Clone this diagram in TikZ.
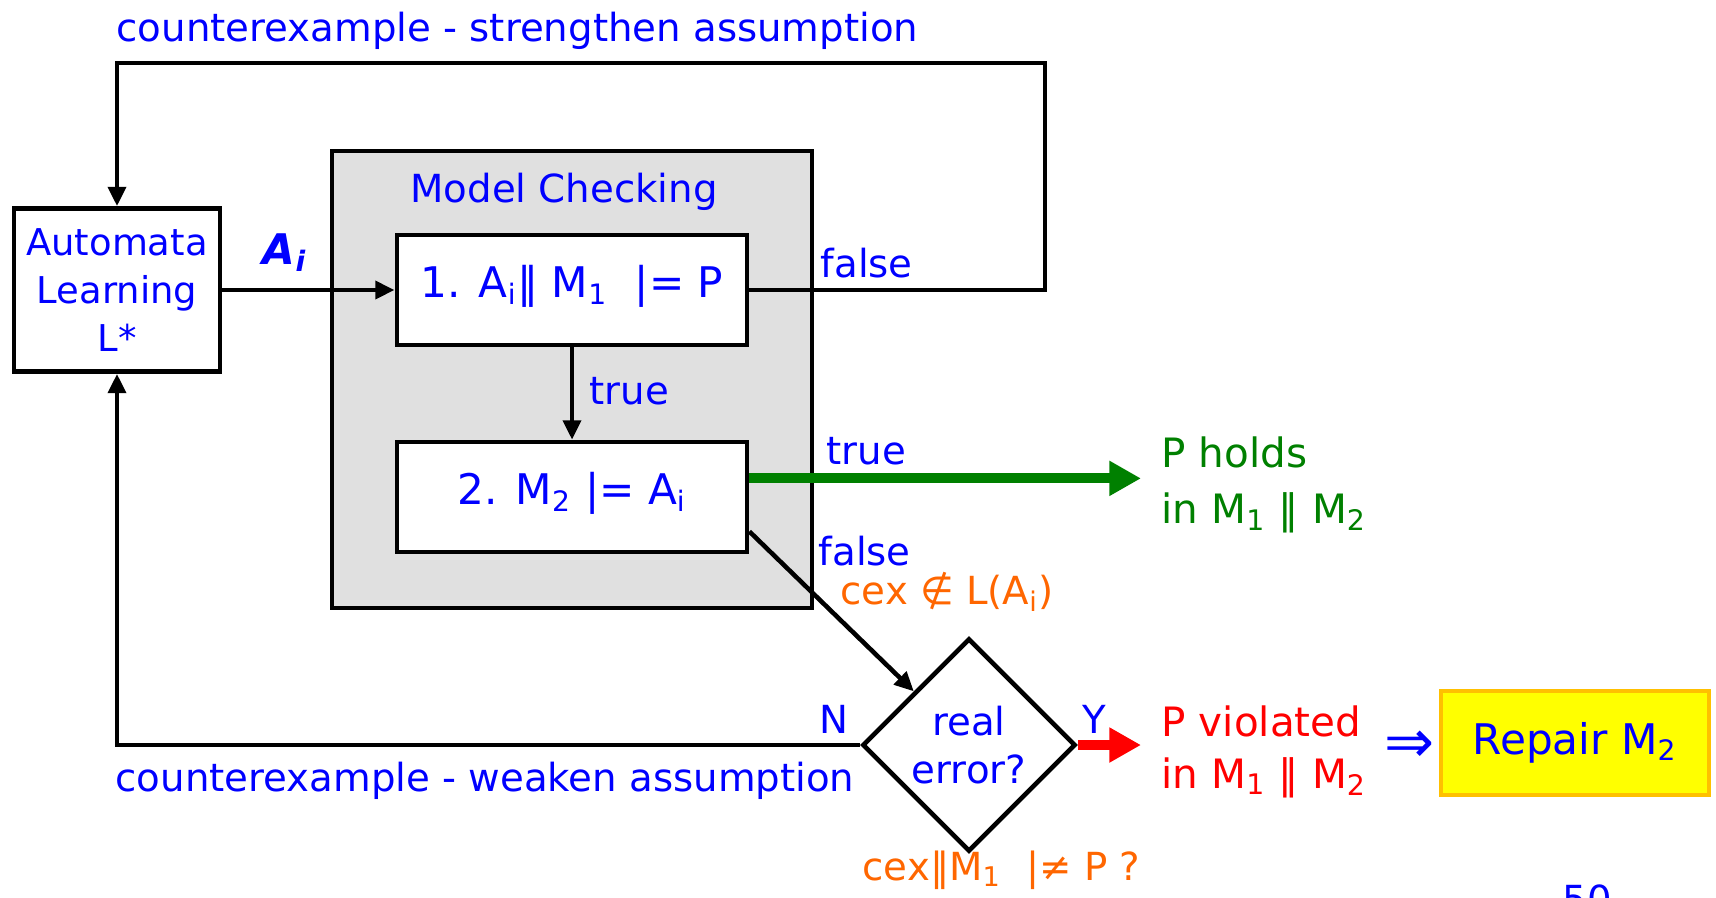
\documentclass[tikz,border=0pt]{standalone}
\usepackage{fontspec}
\setmainfont{DejaVu Sans}
\usetikzlibrary{arrows.meta, positioning, shapes.geometric}
\definecolor{mcblue}{RGB}{0,0,255}
\definecolor{mcorange}{RGB}{255,102,0}
\definecolor{mcgreen}{RGB}{0,128,0}
\definecolor{mcred}{RGB}{255,0,0}
\definecolor{mcgray}{RGB}{224,224,224}
\definecolor{fixyellow}{RGB}{255,255,0}
\definecolor{fixedge}{RGB}{255,192,0}

\begin{document}
\begin{tikzpicture}[
    x=0.01cm, y=-0.01cm,
    lbl/.style={inner sep=0pt, text=mcblue, font=\fontsize{11}{13}\selectfont, anchor=west},
    chk/.style={draw, line width=1.3pt, fill=white, text=mcblue,
        minimum width=3.5cm, minimum height=1.1cm, text height=9pt, text depth=4.6pt,
        font=\fontsize{12}{15}\selectfont},
    arr/.style={line width=1.3pt, -{Triangle[length=5.5pt, width=5pt]}},
    fat/.style={line width=2.9pt, -{Triangle[length=9pt, width=9.4pt]}, shorten >=0.2cm}
]
\useasboundingbox (0,0) rectangle (1716,897);

\node[draw, line width=1.3pt, fill=mcgray, minimum width=4.8cm, minimum height=4.57cm] (mc) at (572,379.5) {};
\node[lbl, anchor=center] (mctitle) at (564,192) {Model Checking};

\node[draw, line width=1.3pt, text=mcblue, minimum width=2.06cm, minimum height=1.63cm,
    align=center, font=\fontsize{10.5}{13.6}\selectfont] (learn) at (117,290)
    {Automata\\Learning\\L*};

\node[chk] (chk1) at (572,290) {1. A\textsubscript{i}‖ M\textsubscript{1} \ |= P};
\node[chk] (chk2) at (572,497) {2. M\textsubscript{2} |= A\textsubscript{i}};

\node[draw, line width=1.3pt, shape=diamond, aspect=1, inner sep=0pt,
    minimum width=2.13cm, minimum height=2.13cm, text=mcblue, align=center,
    font=\fontsize{11}{13.6}\selectfont] (err) at (969,745) {real\\error?};

\node[lbl, align=left, text=mcgreen, font=\fontsize{11.5}{16}\selectfont] (holds) at (1161,485)
    {P holds\\in M\textsubscript{1} ‖ M\textsubscript{2}};
\node[lbl, align=left, text=mcred, font=\fontsize{11.5}{14.8}\selectfont] (viol) at (1161,752)
    {P violated\\in M\textsubscript{1} ‖ M\textsubscript{2}};
\node[lbl, anchor=center, font=\fontsize{17}{17}\selectfont] (impl) at (1410,747) {⇒};
\node[draw=fixedge, line width=1.2pt, fill=fixyellow, text=mcblue,
    minimum width=2.68cm, minimum height=1.04cm,
    font=\fontsize{12}{15}\selectfont] (fix) at (1575,743) {Repair M\textsubscript{2}};

\node[lbl] (strong) at (116,31) {counterexample - strengthen assumption};
\node[lbl] (weak) at (115,781) {counterexample - weaken assumption};
\node[lbl, anchor=center, font=\fontsize{12}{13}\bfseries\itshape] (ai) at (285,253) {A\textsubscript{i}};
\node[lbl] (f1) at (820,263) {false};
\node[lbl] (t1) at (589,391) {true};
\node[lbl] (t2) at (826,451) {true};
\node[lbl] (f2) at (818,551) {false};
\node[lbl, text=mcorange] (notin) at (840,592) {cex ∉ L(A\textsubscript{i})};
\node[lbl, anchor=center] (no) at (834,719) {N};
\node[lbl, anchor=center] (yes) at (1094,719) {Y};
\node[lbl, text=mcorange] (query) at (862,870) {cex‖M\textsubscript{1} \ |≠ P ?};
\node[lbl, anchor=center] (page) at (1587,899) {50};

\coordinate (tr) at (1045,63);
\draw[arr] (learn.east) -- (chk1.west);
\draw[arr] (chk1) -- (chk2);
\draw[arr] (chk1.east) -| (tr) -| (learn.north);
\draw[arr] (chk2.-11) -- (err);
\draw[arr] (err.west) -| (learn.south);
\draw[fat, mcgreen] (chk2.6) -- (chk2.6 -| holds.west);
\draw[fat, mcred] (err.east) -- (err.east -| viol.west);

\end{tikzpicture}
\end{document}
